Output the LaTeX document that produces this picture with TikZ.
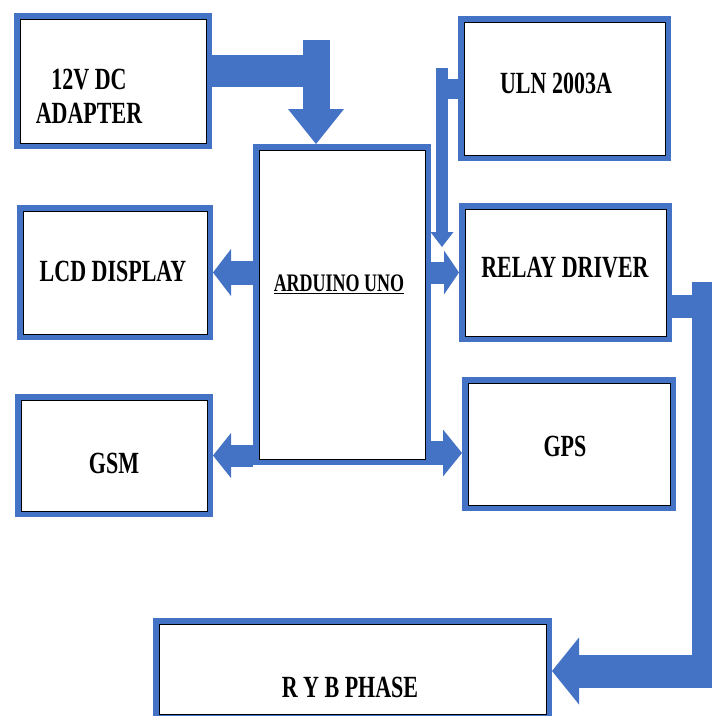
\documentclass[tikz,border=0pt]{standalone}
\usepackage{fontspec}
\setmainfont{Liberation Serif}
\usepackage{graphicx}
\usetikzlibrary{arrows.meta}

\definecolor{ardblue}{HTML}{4472C4}
\newcommand{\tall}[1]{\scalebox{1}[1.4]{#1}}

\tikzset{
  box/.style={draw=black, line width=0.8pt, fill=white, inner sep=0pt, outer sep=6pt,
    preaction={draw=ardblue, line width=12pt}},
  lbl/.style={font=\fontsize{22}{34}\selectfont\bfseries, align=center, inner sep=0pt},
  bar/.style={draw=ardblue, line width=#1},
  flow/.style n args={3}{draw=ardblue, line width=#1,
    -{Triangle[width=#2, length=#3, line width=0pt]}}
}

\begin{document}
\begin{tikzpicture}[x=1pt, y=-1pt]
        \useasboundingbox (0,0) rectangle (712,716);
        % blocks
        \node[box, minimum width=186, minimum height=124] (adapter) at (113,81) {};
        \node[box, minimum width=201, minimum height=133] (uln) at (564.5,88.5) {};
        \node[box, minimum width=201, minimum height=127] (relay) at (565.5,272.5) {};
        \node[box, minimum width=166, minimum height=309] (arduino) at (342,304.5) {};
        \node[box, minimum width=184, minimum height=123] (lcd) at (115,272.5) {};
        \node[box, minimum width=186, minimum height=111] (gsm) at (114,455.5) {};
        \node[box, minimum width=202, minimum height=122] (gps) at (569,444) {};
        \node[box, minimum width=387, minimum height=90] (ryb) at (352.5,669) {};
        % texts
        \node[lbl] (adapter-t) at (89,96) {\tall{12V DC}\\\tall{ADAPTER}};
        \node[lbl] (uln-t) at (556,83) {\tall{ULN 2003A}};
        \node[lbl] (relay-t) at (565,268) {\tall{RELAY DRIVER}};
        \node[lbl, font=\fontsize{18}{22}\selectfont\bfseries] (arduino-t) at (339,284) {\underline{\tall{ARDUINO UNO}}};
        \node[lbl] (lcd-t) at (113,271) {\tall{LCD DISPLAY}};
        \node[lbl] (gsm-t) at (114,463) {\tall{GSM}};
        \node[lbl] (gps-t) at (565,446) {\tall{GPS}};
        \node[lbl] (ryb-t) at (350,687) {\tall{R Y B PHASE}};
        % supply
        \coordinate (pwr) at (316,40);
        \draw[bar=32] ([yshift=10]adapter.east) -- ++(118,0);
        \draw[flow={27}{56pt}{35pt}] (pwr) -- (pwr |- arduino.north);
        % uln to relay
        \coordinate (ulnbend) at (442,68);
        \draw[bar=20] (uln.west) -- ++(-14,0);
        \draw[flow={12}{23pt}{15pt}] (ulnbend) -- ++(0,179);
        % arduino outputs
        \draw[flow={24}{47pt}{18pt}] (lcd.east -| arduino.west) -- (lcd.east);
        \draw[flow={22}{45pt}{18pt}] (gsm.east -| arduino.west) -- (gsm.east);
        \draw[flow={22}{44pt}{15pt}] (relay.west -| arduino.east) -- (relay.west);
        \path (gps.west) ++(0,9) coordinate (gpsin);
        \draw[flow={24}{47pt}{19pt}] (gpsin -| arduino.east) -- (gpsin);
        % relay to phase
        \coordinate (rybbend) at (703,282);
        \coordinate (rybin) at (714,671);
        \draw[bar=23] ([yshift=-34]relay.east) -- ++(22,0);
        \draw[bar=22] (rybbend) -- (rybbend |- rybin);
        \draw[flow={33}{67pt}{27pt}] (rybin) -- (rybin -| ryb.east);
\end{tikzpicture}
\end{document}
